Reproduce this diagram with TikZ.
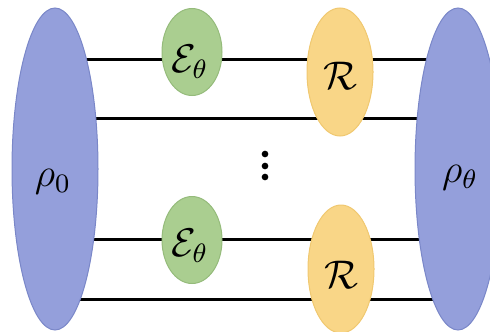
\documentclass[tikz,border=0pt]{standalone}
\usetikzlibrary{shapes.geometric}
\definecolor{stateblue}{HTML}{949FDB}
\definecolor{stateblueedge}{HTML}{7A87C8}
\definecolor{chgreen}{HTML}{AACE90}
\definecolor{chgreenedge}{HTML}{95BB7B}
\definecolor{recorange}{HTML}{F9D687}
\definecolor{recorangeedge}{HTML}{F0C870}
\tikzset{
  wire/.style={line width=0.9pt, black},
  statebox/.style={ellipse, fill=stateblue, draw=stateblueedge, line width=0.3pt,
    minimum width=25.8pt, minimum height=96.6pt, inner sep=0pt},
  chanbox/.style={ellipse, fill=chgreen, draw=chgreenedge, line width=0.3pt,
    minimum width=18pt, minimum height=26.1pt, inner sep=0pt},
  recbox/.style={ellipse, fill=recorange, draw=recorangeedge, line width=0.3pt,
    minimum width=19.8pt, minimum height=38.4pt, inner sep=0pt},
  lbl/.style={inner sep=0pt, font=\fontsize{12}{14}\selectfont},
  dotmark/.style={circle, fill=black, inner sep=0pt, minimum size=2pt}
}
\begin{document}
\begin{tikzpicture}[x=0.3pt,y=-0.3pt]
\useasboundingbox (0,0) rectangle (490,331);
\clip (0,0) rectangle (490,331);
% wire end points (hidden under the state ellipses)
\coordinate (a1) at (55,59);  \coordinate (b1) at (458,59);
\coordinate (a2) at (55,118); \coordinate (b2) at (458,118);
\coordinate (a3) at (55,239); \coordinate (b3) at (458,239);
\coordinate (a4) at (55,299); \coordinate (b4) at (458,299);
\draw[wire] (a1) -- (b1);
\draw[wire] (a2) -- (b2);
\draw[wire] (a3) -- (b3);
\draw[wire] (a4) -- (b4);
% states
\node[statebox] (rin) at (55,169) {};
\node[statebox] (rout) at (458,169) {};
% channels
\node[chanbox] (e1) at (192,52) {};
\node[chanbox] (e2) at (192,240) {};
% recovery
\node[recbox] (r1) at (340,72) {};
\node[recbox] (r2) at (341,269) {};
% labels
\node[lbl] (t0) at (53,182) {$\rho_0$};
\node[lbl] (tt) at (460,178) {$\rho_\theta$};
\node[lbl] (te1) at (190,62) {$\mathcal{E}_\theta$};
\node[lbl] (te2) at (190,246) {$\mathcal{E}_\theta$};
\node[lbl] (tr1) at (340,76) {$\mathcal{R}$};
\node[lbl] (tr2) at (341,275) {$\mathcal{R}$};
% vertical dots
\node[dotmark] (d1) at (265,154) {};
\node[dotmark] (d2) at (265,166) {};
\node[dotmark] (d3) at (265,177) {};
\end{tikzpicture}
\end{document}
